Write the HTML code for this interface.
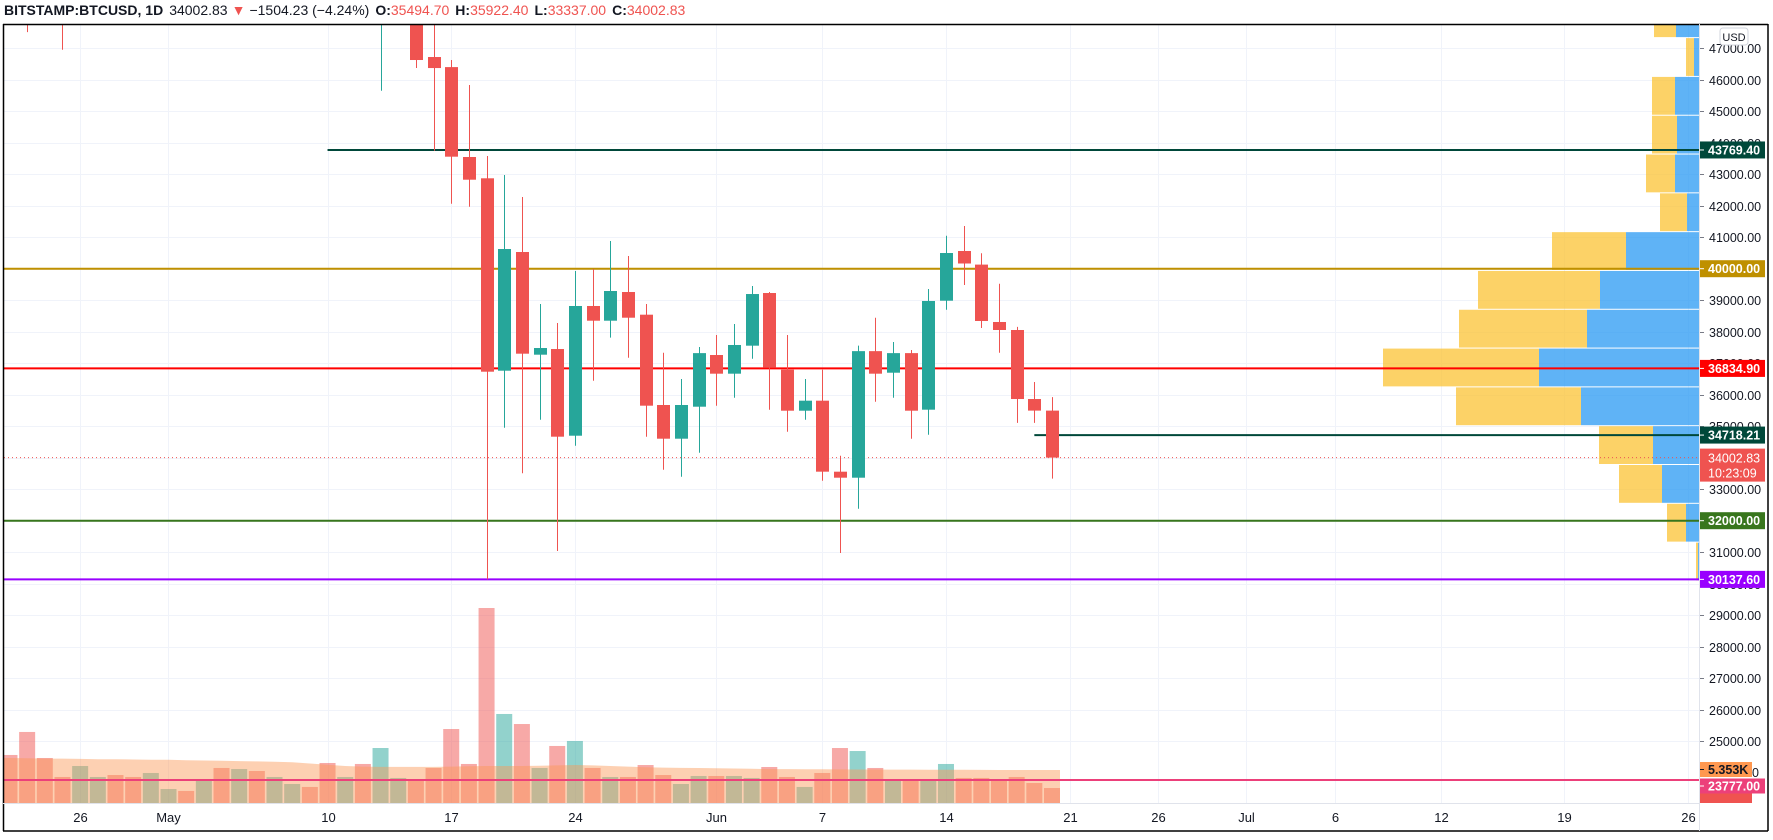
<!DOCTYPE html>
<html><head><meta charset="utf-8">
<style>
html,body{margin:0;padding:0;background:#fff;}
svg{display:block;font-family:"Liberation Sans",sans-serif;}
</style></head>
<body>
<svg id="chart" width="1773" height="840" viewBox="0 0 1773 840">
  <defs>
    <clipPath id="plotClip"><rect x="4" y="25" width="1695" height="778"/></clipPath>
  </defs>
  <rect x="0" y="0" width="1773" height="840" fill="#fff"/>
  <text x="4" y="15" font-size="14" fill="#131722"><tspan font-weight="bold">BITSTAMP:BTCUSD, 1D</tspan><tspan dx="6">34002.83</tspan><tspan fill="#ef5350" dx="4">▼</tspan><tspan dx="4">−1504.23 (−4.24%)</tspan><tspan dx="6" font-weight="bold">O:</tspan><tspan fill="#ef5350">35494.70</tspan><tspan dx="6" font-weight="bold">H:</tspan><tspan fill="#ef5350">35922.40</tspan><tspan dx="6" font-weight="bold">L:</tspan><tspan fill="#ef5350">33337.00</tspan><tspan dx="6" font-weight="bold">C:</tspan><tspan fill="#ef5350">34002.83</tspan></text>
  <g id="grid"></g>
  <g id="plot" clip-path="url(#plotClip)">
    <g id="vol"></g>
    <g id="volma"></g>
    <g id="profile"></g>
    <g id="levels"></g>
    <g id="candles"></g>
  </g>
  <g id="axis"></g>
  <line x1="3" y1="24.5" x2="1768" y2="24.5" stroke="#000" stroke-width="1.5"/>
  <line x1="3.5" y1="24" x2="3.5" y2="831" stroke="#000" stroke-width="1.5"/>
  <line x1="1768" y1="24" x2="1768" y2="831" stroke="#000" stroke-width="1.5"/>
  <line x1="3" y1="831" x2="1768" y2="831" stroke="#000" stroke-width="1.5"/>
  <line x1="1699.5" y1="24" x2="1699.5" y2="831" stroke="#e0e3eb" stroke-width="1"/>
  <line x1="3" y1="803.5" x2="1699" y2="803.5" stroke="#e0e3eb" stroke-width="1"/>
  <rect x="1720" y="28" width="28" height="17" rx="3" fill="#fff" stroke="#d1d4dc"/>
  <text x="1734" y="41" font-size="11" text-anchor="middle" fill="#131722">USD</text>
</svg>
<script>
const dates = ["Apr 21","Apr 22","Apr 23","Apr 24","Apr 25","Apr 26","Apr 27","Apr 28","Apr 29","Apr 30","May 1","May 2","May 3","May 4","May 5","May 6","May 7","May 8","May 9","May 10","May 11","May 12","May 13","May 14","May 15","May 16","May 17","May 18","May 19","May 20","May 21","May 22","May 23","May 24","May 25","May 26","May 27","May 28","May 29","May 30","May 31","Jun 1","Jun 2","Jun 3","Jun 4","Jun 5","Jun 6","Jun 7","Jun 8","Jun 9","Jun 10","Jun 11","Jun 12","Jun 13","Jun 14","Jun 15","Jun 16","Jun 17","Jun 18","Jun 19","Jun 20"];
const opens = [56500,53800,51700,51200,50100,49000,54000,55000,54800,53600,57700,57800,56600,57200,53200,57500,56400,57400,58900,58300,55800,56700,49500,49700,49900,46720,46400,43546,42870,36762,40530,37270,37450,34698,38816,38349,39260,38540,35673,34603,35619,37260,36667,37556,39228,36794,35492,35810,33556,33365,37383,36698,37320,35524,38984,40562,40130,38308,38054,35863,35494.70];
const highs = [56800,55500,52100,51200,50500,54400,55500,56400,55200,58000,58500,57900,58900,57200,57900,58400,58700,59500,59300,59500,56900,58000,51400,51500,50700,49800,46625,45832,43578,42975,42276,38879,38276,39927,39990,40879,40403,38879,37333,36498,37514,37895,38244,39451,39260,37895,36498,36794,34063,37556,38444,37673,37419,39355,41048,41356,40489,39521,38154,36403,35922.40];
const lows = [53600,50400,47510,48800,46950,48800,53300,53900,52400,53000,57000,56000,56500,53000,52900,55200,55300,56900,56200,54000,54400,48600,45650,48800,46370,43746,42063,41968,30137.6,34952,33505,35206,31038,34381,36444,37810,37175,34667,33619,33397,34159,35651,35905,37143,35524,34825,35206,33270,30975,32381,35778,35905,34603,34730,38698,39482,38117,37330,35105,35105,33337];
const closes = [53800,51700,51200,50100,49000,54000,55000,54800,53600,57700,57800,56600,57200,53200,57500,56400,57400,58900,58300,55800,56700,49500,49700,49900,46625,46370,43556,42825,36730,40625,37302,37482,34667,38816,38349,39292,38444,35651,34603,35673,37320,36667,37578,39196,36857,35492,35810,33556,33365,37383,36667,37320,35492,38975,40498,40165,38340,38054,35863,35495,34002.83];
const volumesK = [8.5,7.79,11.52,7.30,4.22,6.00,4.22,4.54,4.22,4.87,2.27,1.95,3.57,5.68,5.51,5.19,4.22,3.08,2.60,6.49,4.22,6.33,8.92,4.06,3.73,5.68,12.00,6.33,31.63,14.44,12.81,5.68,9.25,10.06,5.68,4.22,4.22,6.16,4.54,3.08,4.38,4.38,4.38,4.06,5.84,4.22,2.60,4.87,8.92,8.43,5.68,3.73,3.73,3.73,6.33,4.06,4.06,3.73,4.22,3.24,2.43];
const volMAK = [7.3,7.3,7.25,7.2,7.2,7.15,7.1,7.1,7.05,7.0,7.0,6.95,6.9,6.85,6.8,6.75,6.7,6.6,6.4,6.2,6.0,5.9,5.85,5.85,5.85,5.85,5.9,5.95,6.0,6.0,6.0,6.05,6.1,6.16,6.1,6.0,5.9,5.8,5.75,5.7,5.68,5.65,5.6,5.55,5.5,5.5,5.48,5.46,5.45,5.44,5.43,5.42,5.41,5.40,5.39,5.38,5.37,5.36,5.36,5.355,5.353];
const profileBottoms = [30104,31336,32568,33800,35032,36264,37496,38728,39960,41192,42424,43656,44888,46120,47352];
const profileUp = [1,13,37,46,118,160,112,99,73,12,24,22,24,5,23];
const profileDown = [2,19,43,54,125,156,128,122,74,27,29,25,23,8,22];
const priceTicks = [25000,26000,27000,28000,29000,30000,31000,32000,33000,34000,35000,36000,37000,38000,39000,40000,41000,42000,43000,44000,45000,46000,47000];
const timeTickLabels = ["26","May","10","17","24","Jun","7","14","21","26","Jul","6","12","19","26"];
const timeTickDays = [5,10,19,26,33,41,47,54,61,66,71,76,82,89,96];
const levelPrices = [43769.40,40000,36834.90,34718.21,32000,30137.60];
const levelStartDays = [19,0,0,59,0,0];
const levelColors = ["#00483a","#bf9000","#ff0000","#00483a","#38761d","#9900ff"];
const levelNames = ["resistance-43769","level-40000","level-36834","support-34718","support-32000","low-30137"];
const lastPrice = 34002.83;

const NS = "http://www.w3.org/2000/svg";
const PX_DAY = 17.67;
function xOf(i){ return 1052 + (i - 60) * PX_DAY; }
function yP(p){ return 646.7 + (28000 - p) * 0.0315; }
function yV(v){ return 803 - v * 6.165; }
function profW(v){ return v * 1.0; }
function mk(tag, attrs, parent){
  const e = document.createElementNS(NS, tag);
  for (const k in attrs) e.setAttribute(k, attrs[k]);
  parent.appendChild(e);
  return e;
}
const grid = document.getElementById('grid');
const axis = document.getElementById('axis');

priceTicks.forEach(function(p){
  const y = Math.round(yP(p)) + 0.5;
  const gl = mk('line', {x1:4, x2:1699, y1:y, y2:y, stroke:'#f0f3fa', 'stroke-width':1}, grid);
  
  
  mk('line', {x1:1699, x2:1704, y1:y, y2:y, stroke:'#787b86', 'stroke-width':1}, axis);
  const t = mk('text', {x:1709, y:y + 4.5, 'font-size':12.5, fill:'#131722'}, axis);
  t.textContent = p.toFixed(2);
  
  
});
timeTickDays.forEach(function(d, k){
  const x = Math.round(xOf(d)) + 0.5;
  const gl = mk('line', {x1:x, x2:x, y1:25, y2:803, stroke:'#f0f3fa', 'stroke-width':1}, grid);
  
  
  const t = mk('text', {x:x, y:822, 'font-size':13, fill:'#131722', 'text-anchor':'middle'}, axis);
  t.textContent = timeTickLabels[k];
  
  
});

const volG = document.getElementById('vol');
volumesK.forEach(function(v, i){
  const up = closes[i] >= opens[i];
  const x = xOf(i);
  const y = yV(v);
  const r = mk('rect', {x:x - 8, y:y, width:16, height:803 - y, fill: up ? 'rgba(38,166,154,0.5)' : 'rgba(239,83,80,0.5)'}, volG);
  
  
});
const maG = document.getElementById('volma');
let d = 'M' + (xOf(0) - 8) + ' 803';
volMAK.forEach(function(v, i){ d += ' L' + xOf(i).toFixed(1) + ' ' + yV(v).toFixed(1); });
d += ' L' + (xOf(volMAK.length - 1) + 8) + ' ' + yV(volMAK[volMAK.length - 1]).toFixed(1) + ' L' + (xOf(volMAK.length - 1) + 8) + ' 803 Z';
const area = mk('path', {d:d, fill:'rgba(251,152,87,0.46)'}, maG);



const profG = document.getElementById('profile');
profileBottoms.forEach(function(b, k){
  const yTop = yP(b + 1232) + 1;
  const yBot = yP(b);
  const wU = profW(profileUp[k]);
  const wD = profW(profileDown[k]);
  const ru = mk('rect', {x:1699 - wU, y:yTop, width:wU, height:yBot - yTop, fill:'rgba(33,150,243,0.72)'}, profG);
  
  
  const rd = mk('rect', {x:1699 - wU - wD, y:yTop, width:wD, height:yBot - yTop, fill:'rgba(251,192,45,0.72)'}, profG);
  
  
});

const lvG = document.getElementById('levels');
levelPrices.forEach(function(p, k){
  const y = yP(p);
  const l = mk('line', {x1:xOf(levelStartDays[k]), x2:1699, y1:y, y2:y, stroke:levelColors[k], 'stroke-width':2}, lvG);
  
  
});
const ly = yP(lastPrice);
const ll = mk('line', {x1:4, x2:1699, y1:ly, y2:ly, stroke:'#ef5350', 'stroke-width':1, 'stroke-dasharray':'1 3'}, lvG);


const vl = mk('line', {x1:4, x2:1699, y1:780, y2:780, stroke:'#ec407a', 'stroke-width':2}, lvG);



const cG = document.getElementById('candles');
opens.forEach(function(o, i){
  const c = closes[i];
  const up = c >= o;
  const col = up ? '#26a69a' : '#ef5350';
  const x = Math.round(xOf(i));
  const w = mk('line', {x1:x + 0.5, x2:x + 0.5, y1:yP(highs[i]), y2:yP(lows[i]), stroke:col, 'stroke-width':1}, cG);
  
  
  const top = yP(Math.max(o, c));
  const h = Math.max(1, yP(Math.min(o, c)) - top);
  const b = mk('rect', {x:x - 6, y:top, width:13, height:h, fill:col}, cG);
  
  
});

function box(y, h, w, fill, txt, txtFill, name){
  const g = mk('g', {}, axis);
  
  
  mk('rect', {x:1699, y:y - h / 2, width:w, height:h, fill:fill}, g);
  mk('line', {x1:1699, x2:1704, y1:y, y2:y, stroke:txtFill, 'stroke-width':1}, g);
  const t = mk('text', {x:1708, y:y + 4.5, 'font-size':12.5, 'font-weight':'bold', fill:txtFill}, g);
  t.textContent = txt;
  return g;
}
const lvlLabels = ["43769.40","40000.00","36834.90","34718.21","32000.00","30137.60"];
levelPrices.forEach(function(p, k){
  box(yP(p), 17, 66, levelColors[k], lvlLabels[k], '#fff', 'level-label-' + k);
});
const lg = mk('g', {}, axis);


mk('rect', {x:1699, y:ly - 9, width:66, height:33, fill:'#ef5350'}, lg);
const t1 = mk('text', {x:1708, y:ly + 5, 'font-size':12.5, fill:'#fff'}, lg); t1.textContent = '34002.83';
const t2 = mk('text', {x:1708, y:ly + 20, 'font-size':12.5, fill:'#fff'}, lg); t2.textContent = '10:23:09';
const z = mk('text', {x:1752, y:777, 'font-size':12.5, fill:'#131722'}, axis); z.textContent = '0';
box(769.5, 15, 53, '#ff9850', '5.353K', '#131722', 'volume-ma-label');
const rb = mk('rect', {x:1699, y:793, width:53, height:10, fill:'#ef5350'}, axis);


box(786, 15, 66, '#ec407a', '23777.00', '#fff', 'level-label-23777');
</script>
</body></html>
